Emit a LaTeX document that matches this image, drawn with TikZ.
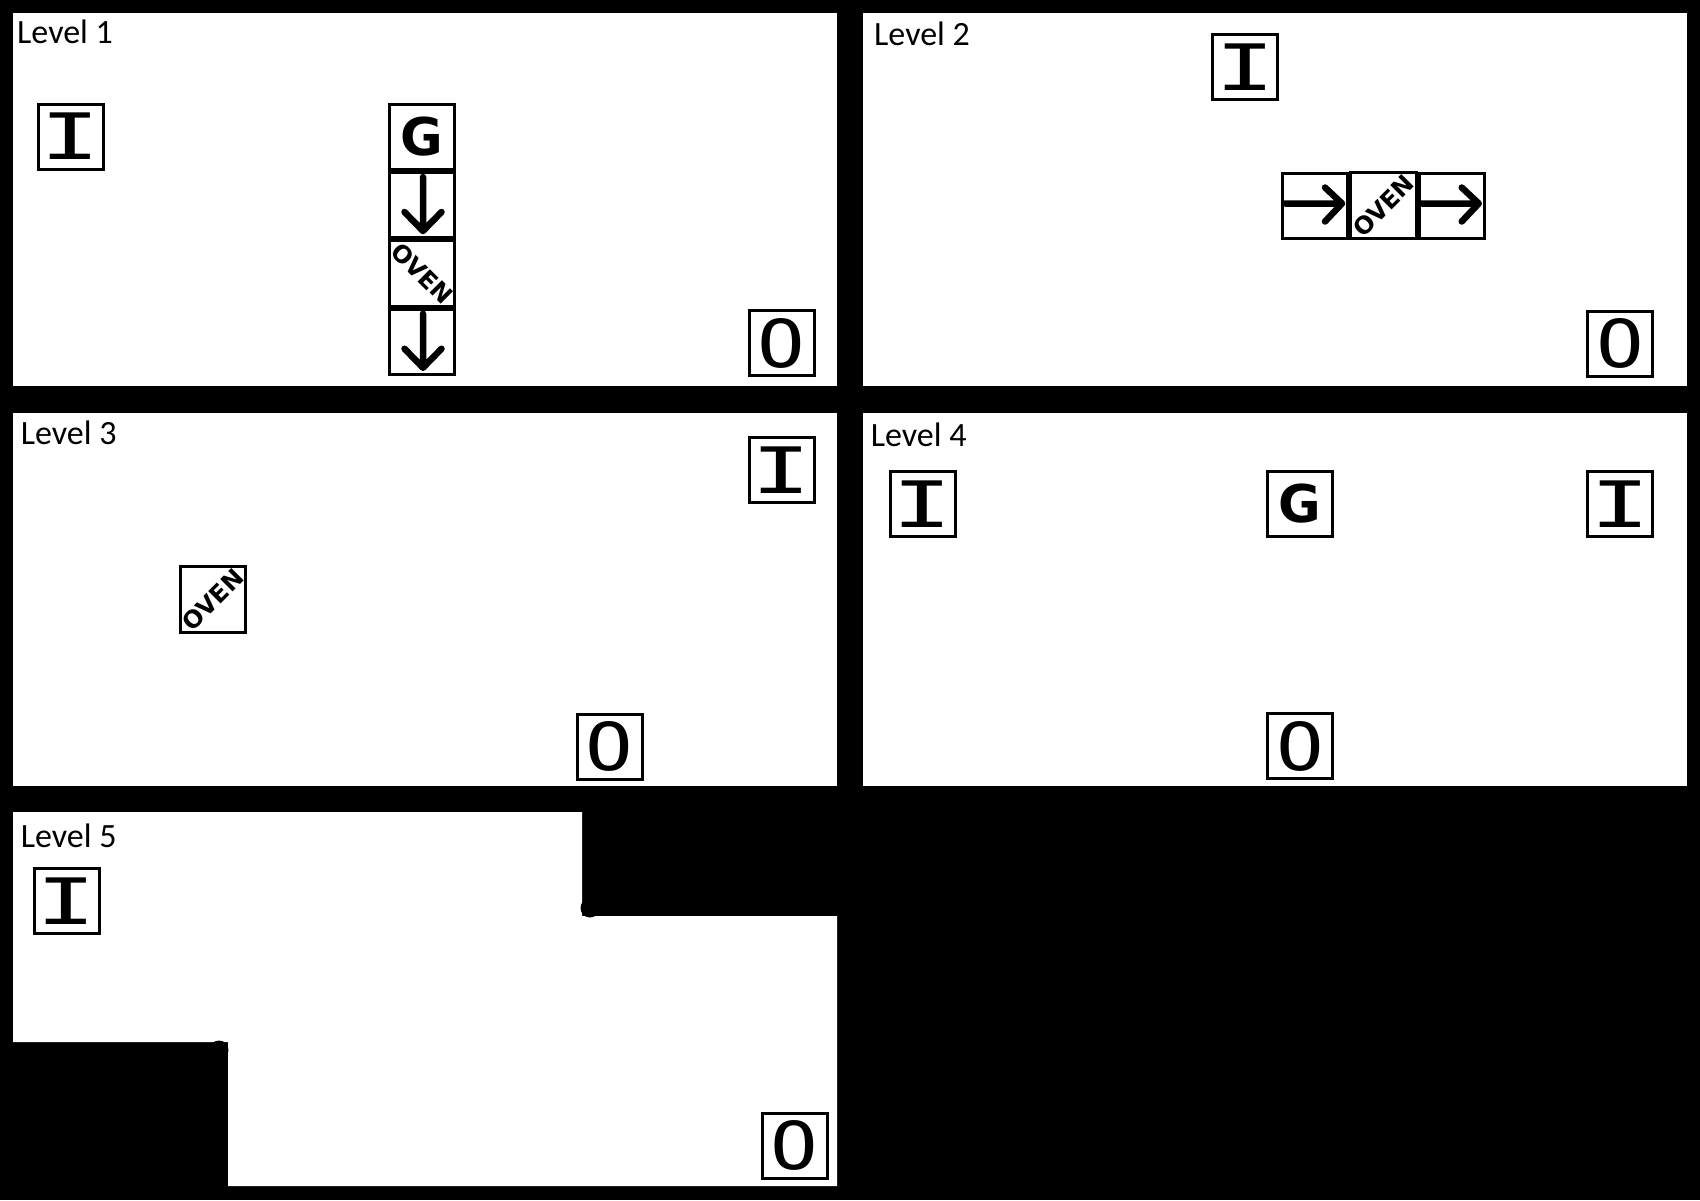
\documentclass[tikz,border=0pt]{standalone}
\usepackage{fontspec}
\usepackage{graphicx}
\setmainfont{Carlito}
\newfontfamily\tilefont{DejaVu Sans Mono}
\newfontfamily\ovenfont{DejaVu Sans}
\usetikzlibrary{positioning}
\tikzset{
  panel/.style={fill=white},
  lvl/.style={anchor=base west, inner sep=0pt, font=\fontsize{34}{40}\selectfont},
  tile/.style={draw, line width=3pt, minimum size=65pt, inner sep=0pt, fill=white},
  inbox/.style={tile, font=\tilefont\fontsize{64}{70}\selectfont},
  outbox/.style={tile, font=\tilefont\fontsize{66}{70}\selectfont},
  goalbox/.style={tile, font=\ovenfont\bfseries\fontsize{52}{60}\selectfont},
  ovenbox/.style={tile, font=\ovenfont\bfseries\fontsize{24}{26}\selectfont},
  tilearrow/.style={line width=6.5pt, line cap=round, line join=round}
}
\newcommand{\inglyph}{\scalebox{1.55}[1]{I}}
\newcommand{\outglyph}{\scalebox{1.2}[1]{O}}

\begin{document}
\begin{tikzpicture}[x=1pt,y=-1pt]
  \useasboundingbox (0,0) rectangle (1700,1200);
  \fill[black] (0,0) rectangle (1700,1200);

  % panels
  \fill[panel] (13,13) rectangle (837,386);
  \fill[panel] (863,13) rectangle (1687,386);
  \fill[panel] (13,413) rectangle (837,786);
  \fill[panel] (863,413) rectangle (1687,786);
  \fill[panel] (13,812) -- (582,812) -- (582,916) -- (837,916) -- (837,1186)
    -- (228,1186) -- (228,1042) -- (13,1042) -- cycle;
  \fill[black] (590,908) circle[radius=9.5pt];
  \fill[black] (219,1050) circle[radius=9.5pt];

  \node[lvl] (lvlone) at (17,43.3) {Level 1};
  \node[lvl] (lvltwo) at (874,45.5) {Level 2};
  \node[lvl] (lvlthree) at (20.6,444.5) {Level 3};
  \node[lvl] (lvlfour) at (870.6,446.7) {Level 4};
  \node[lvl] (lvlfive) at (20.6,847.8) {Level 5};

  % level 1
  \node[inbox] (l1in) at (70.5,136.5) {\inglyph};
  \node[goalbox] (l1goal) at (422,137) {G};
  \node[tile, below=0pt of l1goal] (l1down1) {};
  \node[ovenbox, below=0pt of l1down1] (l1oven) {\rotatebox{-45}{OVEN}};
  \node[tile, below=0pt of l1oven] (l1down2) {};
  \node[outbox] (l1out) at (781.5,343) {\outglyph};
  \draw[tilearrow, shift={(l1down1.center)}] (1,-28) -- (1,26) (-17.5,7) -- (1,26) -- (19.5,7);
  \draw[tilearrow, shift={(l1down2.center)}] (1,-28) -- (1,26) (-17.5,7) -- (1,26) -- (19.5,7);

  % level 2
  \node[inbox] (l2in) at (1245,66.7) {\inglyph};
  \node[tile] (l2right1) at (1315,205.5) {};
  \node[ovenbox, right=0pt of l2right1] (l2oven) {\rotatebox{45}{OVEN}};
  \node[tile, right=0pt of l2oven] (l2right2) {};
  \node[outbox] (l2out) at (1620,343.7) {\outglyph};
  \draw[tilearrow, shift={(l2right1.center)}] (-30,-2) -- (27,-2) (10,-18) -- (27,-2) -- (10,16);
  \draw[tilearrow, shift={(l2right2.center)}] (-30,-2) -- (27,-2) (10,-18) -- (27,-2) -- (10,16);

  % level 3
  \node[inbox] (l3in) at (781.5,470) {\inglyph};
  \node[ovenbox] (l3oven) at (213,599.5) {\rotatebox{45}{OVEN}};
  \node[outbox] (l3out) at (609.5,746.5) {\outglyph};

  % level 4
  \node[inbox] (l4inleft) at (922.5,504) {\inglyph};
  \node[goalbox] (l4goal) at (1300,504) {G};
  \node[inbox] (l4inright) at (1620,504) {\inglyph};
  \node[outbox] (l4out) at (1300,746) {\outglyph};

  % level 5
  \node[inbox] (l5in) at (66.5,901) {\inglyph};
  \node[outbox] (l5out) at (794.5,1145.5) {\outglyph};
\end{tikzpicture}
\end{document}
